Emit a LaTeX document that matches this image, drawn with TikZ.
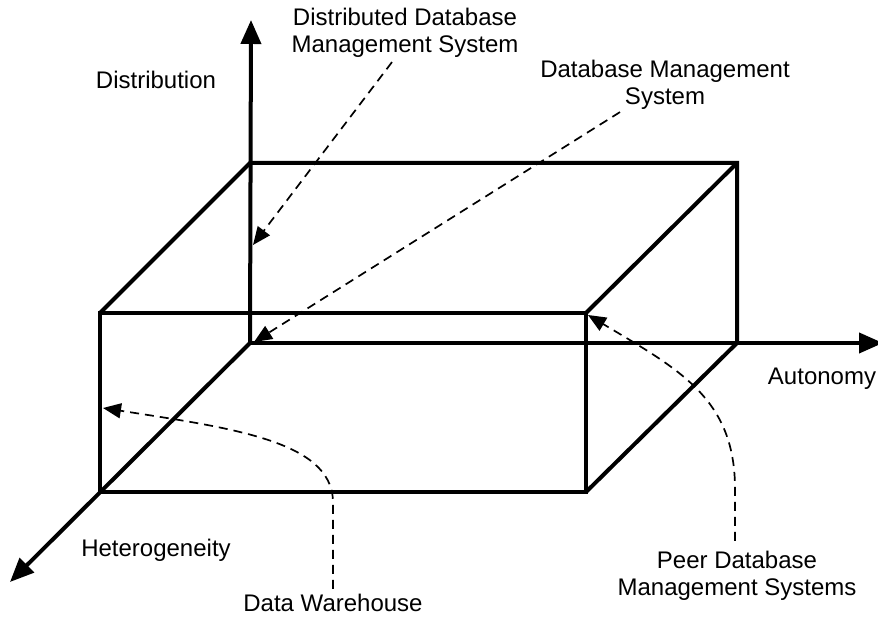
\documentclass[tikz,border=0pt]{standalone}
\usepackage{fontspec}
\setmainfont{Liberation Sans}
\usetikzlibrary{arrows.meta,calc}
\tikzset{
  axis/.style={line width=2pt,-{Triangle[length=12pt,width=10pt]}},
  edge/.style={line width=2pt},
  pointer/.style={line width=0.85pt,dash pattern=on 4.5pt off 3pt,-{Triangle[length=9pt,width=7.5pt]}},
  lbl/.style={font=\fontsize{12}{13.5}\selectfont,align=center,inner sep=0pt}
}
\begin{document}
\begin{tikzpicture}[x=0.5pt,y=-0.5pt]
 \useasboundingbox (0,0) rectangle (878,619);
 \coordinate (O) at (250,343);
 \coordinate (btl) at (250,163);
 \coordinate (btr) at (737,163);
 \coordinate (bbr) at (737,343);
 \coordinate (ftl) at (100,313);
 \coordinate (ftr) at (586,313);
 \coordinate (fbr) at (586,492);
 \coordinate (fbl) at (100,492);
 \coordinate (zTip) at (251,20);
 \coordinate (xTip) at (883,343);
 \coordinate (yTip) at (10,582);
 % axes
 \draw[axis](O)--(zTip);
 \draw[axis](O)--(xTip);
 \draw[axis](O)--(yTip);
 % box
 \draw[edge](ftl)--(ftr)--(fbr)--(fbl)--cycle;
 \draw[edge](ftl)--(btl)--(btr)--(bbr)--(fbr);
 \draw[edge](btr)--(ftr);
 % labels
 \node[lbl] (distLbl) at (156,80) {Distribution};
 \node[lbl] (autoLbl) at (822,379) {Autonomy};
 \node[lbl] (hetLbl) at (156,550) {Heterogeneity};
 \node[lbl] (ddbms) at (405,33) {Distributed Database\\Management System};
 \node[lbl] (dbms) at (665,85) {Database Management\\System};
 \node[lbl] (dw) at (333,603) {Data Warehouse};
 \node[lbl] (peer) at (737,576) {Peer Database\\Management Systems};
 % pointers
 \coordinate (ddbmsTip) at (253,245);
 \coordinate (dbmsTip) at (254,342);
 \coordinate (peerTip) at (588,315);
 \coordinate (dwTip) at (103,408);
 \draw[pointer]($(ddbms.south)+(-13,4)$)--(ddbmsTip);
 \draw[pointer]($(dbms.south)+(-45,2)$)--(dbmsTip);
 \draw[pointer]($(peer.north)+(-2,-10)$)--++(0,-52) .. controls +(0,-90) and +(92,55) .. (peerTip);
 \draw[pointer]($(dw.north)+(0,-5)$)--++(0,-88) .. controls +(-2,-60) and +(128,20) .. (dwTip);
\end{tikzpicture}
\end{document}
